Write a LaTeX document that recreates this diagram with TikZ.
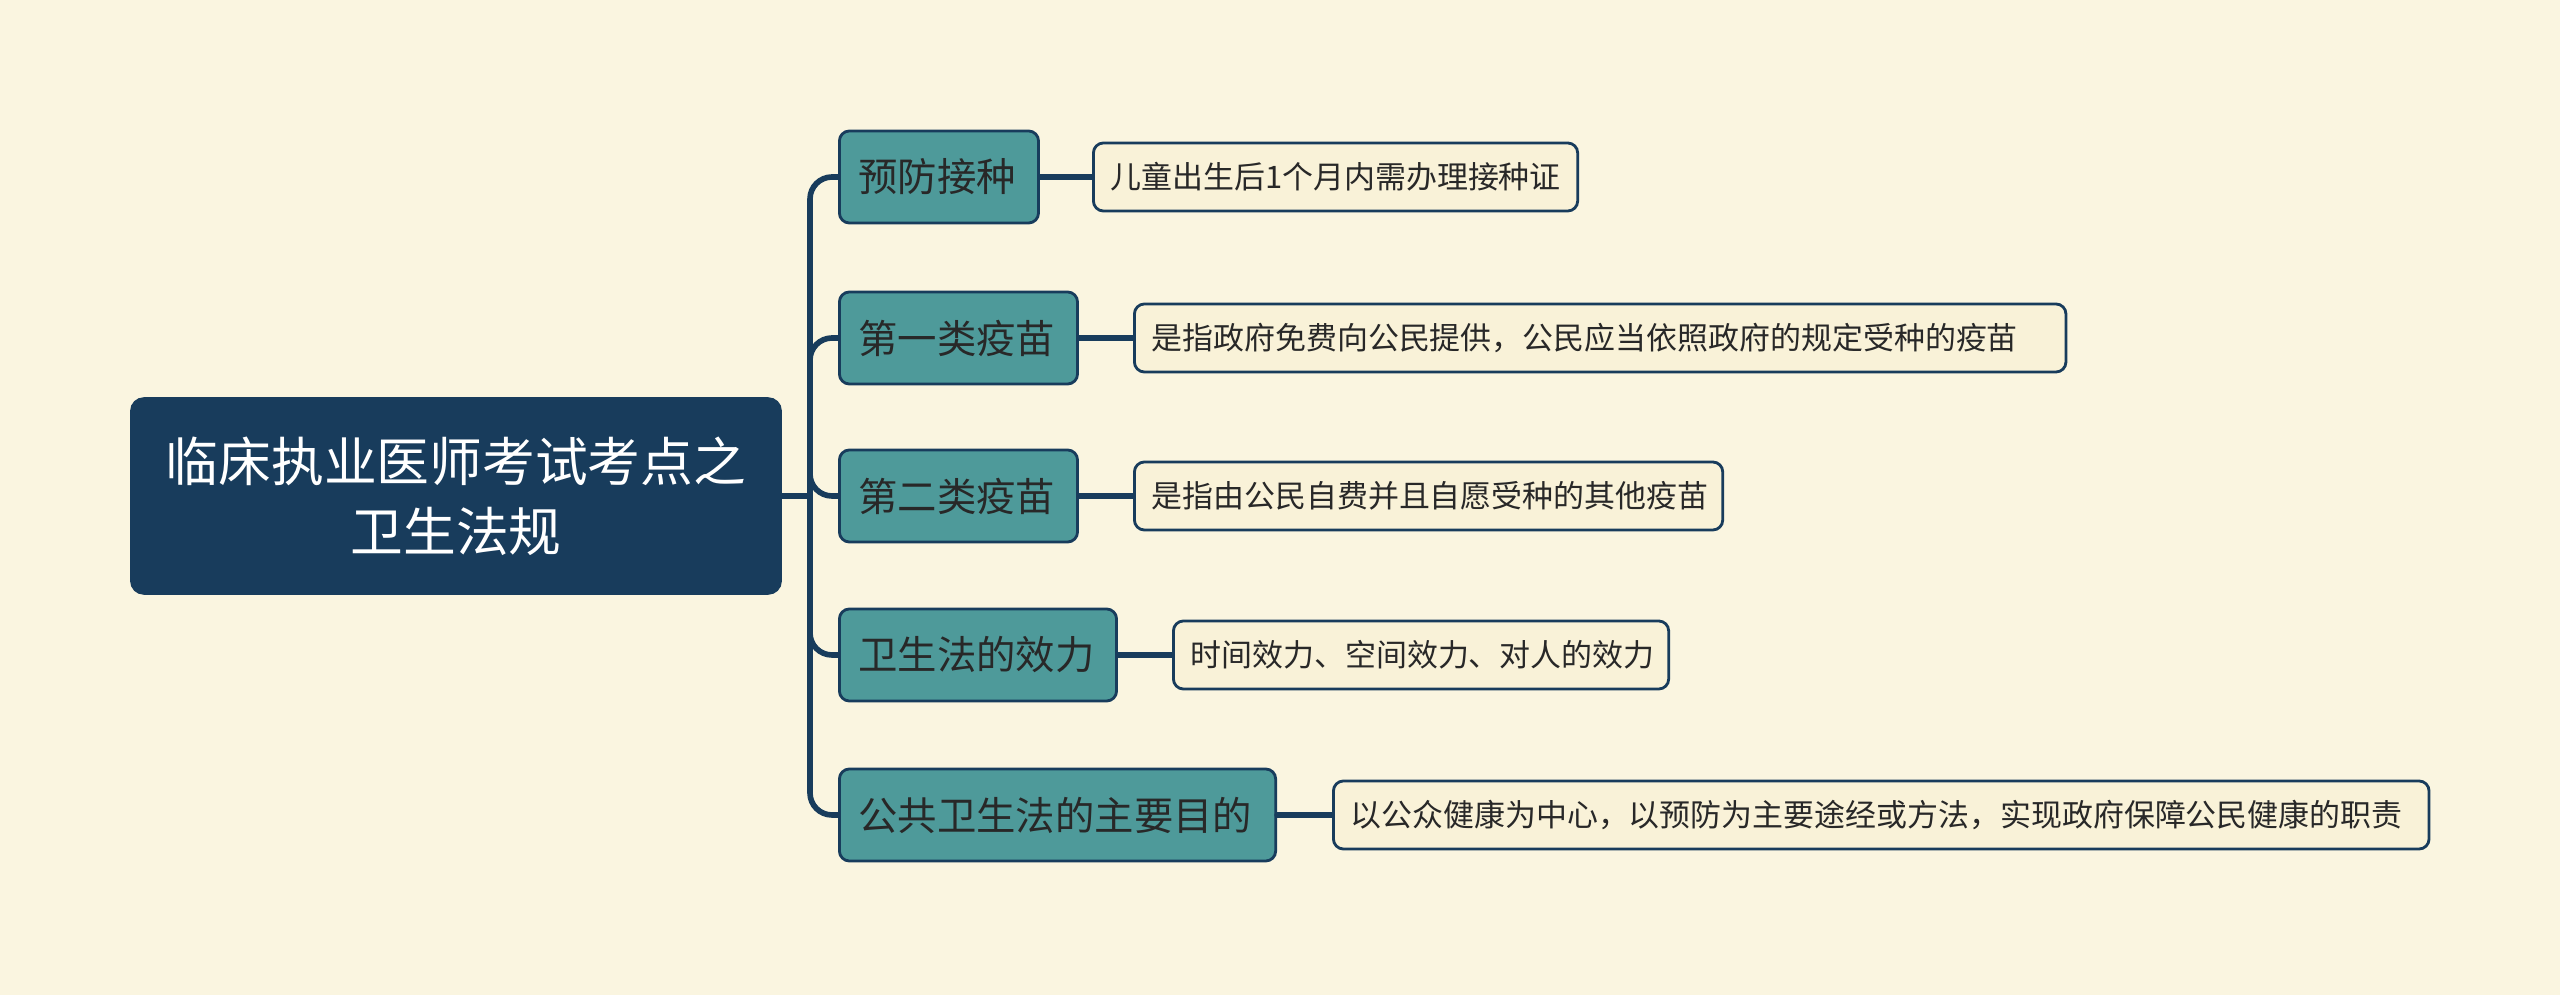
\documentclass[tikz,border=0pt]{standalone}
\usepackage{fontspec}
\setmainfont{Noto Sans CJK SC}
\usepackage{tikz}
\definecolor{paperc}{RGB}{250,245,224}
\definecolor{navyc}{RGB}{24,60,92}
\definecolor{tealc}{RGB}{78,154,154}
\definecolor{leafc}{RGB}{249,242,216}
\definecolor{inkc}{RGB}{40,40,40}

\begin{document}
\begin{tikzpicture}[x=0.01cm, y=-0.01cm, line cap=round,
    rootbox/.style={draw=navyc, fill=navyc, text=white, rounded corners=0.13cm,
      minimum width=6.5cm, minimum height=1.96cm, align=center,
      font=\fontsize{15}{20}\selectfont},
    topicbox/.style={draw=navyc, line width=0.8pt, fill=tealc, text=inkc,
      rounded corners=0.1cm, minimum height=0.92cm, anchor=west,
      inner xsep=0.19cm, text width=#1, align=left,
      font=\fontsize{11.2}{13}\selectfont},
    notebox/.style={draw=navyc, line width=0.8pt, fill=leafc, text=inkc,
      rounded corners=0.1cm, minimum height=0.68cm, anchor=west,
      inner xsep=0.17cm, text width=#1, align=left,
      font=\fontsize{8.8}{11}\selectfont},
    link/.style={draw=navyc, line width=1.6pt}]

  % background and frame of the page
  \fill[paperc] (0,0) rectangle (2560,995);
  \useasboundingbox (0,0) rectangle (2560,995);

  % central topic
  \node[rootbox] (root) at (456,496) {临床执业医师考试考点之\\卫生法规};
  \coordinate (trunk) at (810,496);

  % main branches
  \node[topicbox=1.61cm] (vacc)  at (838,177) {预防接种};
  \node[topicbox=2.00cm] (cls1)  at (838,338) {第一类疫苗};
  \node[topicbox=2.00cm] (cls2)  at (838,496) {第二类疫苗};
  \node[topicbox=2.39cm] (force) at (838,655) {卫生法的效力};
  \node[topicbox=3.98cm] (aim)   at (838,815) {公共卫生法的主要目的};

  % notes
  \node[notebox=4.50cm]  (vaccn)  at (1092,177) {儿童出生后1个月内需办理接种证};
  \node[notebox=8.97cm]  (cls1n)  at (1133,338) {是指政府免费向公民提供，公民应当依照政府的规定受种的疫苗};
  \node[notebox=5.54cm]  (cls2n)  at (1133,496) {是指由公民自费并且自愿受种的其他疫苗};
  \node[notebox=4.61cm]  (forcen) at (1172,655) {时间效力、空间效力、对人的效力};
  \node[notebox=10.61cm] (aimn)   at (1332,815) {以公众健康为中心，以预防为主要途经或方法，实现政府保障公民健康的职责};

  % connectors
  \draw[link] (root.east) -- (trunk);
  \foreach \b in {vacc, cls1, cls2, force, aim}{
    \draw[link, rounded corners=0.22cm] (trunk) |- (\b.west);
    \draw[link] (\b.east) -- (\b n.west);
  }
\end{tikzpicture}
\end{document}
